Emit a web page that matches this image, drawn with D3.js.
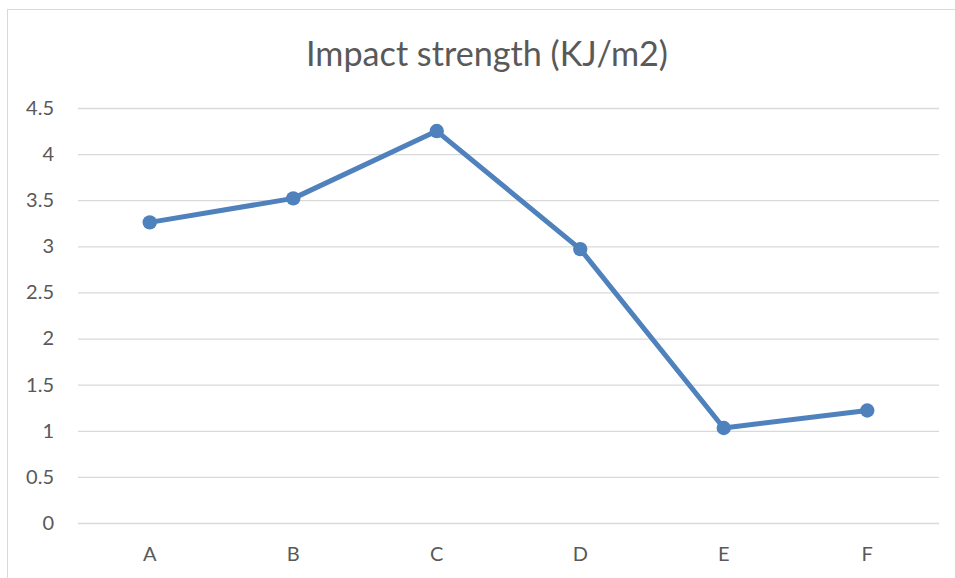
<!DOCTYPE html>
<html>
<head>
<meta charset="utf-8">
<script src="https://cdn.jsdelivr.net/npm/d3@7"></script>
<style>
  body { margin: 0; background: #fff; }
  svg text { font-family: Lato, "Open Sans", "Liberation Sans", sans-serif; fill: #595959; }
</style>
</head>
<body>
<div id="chart"></div>
<script>
// data
var categories = ['A', 'B', 'C', 'D', 'E', 'F'];
var strength = [3.26, 3.52, 4.25, 2.97, 1.03, 1.22];
var yTicks = [0, 0.5, 1, 1.5, 2, 2.5, 3, 3.5, 4, 4.5];
var title = 'Impact strength (KJ/m2)';

var width = 955, height = 578;
var plot = { left: 78, right: 939, top: 108, bottom: 523 };

var svg = d3.select('#chart').append('svg')
    .attr('width', width)
    .attr('height', height);

// chart frame
svg.append('rect')
    .attr('x', 7.5).attr('y', 9.5)
    .attr('width', 960).attr('height', 600)
    .attr('fill', '#fff')
    .attr('stroke', '#d9d9d9');

var x = d3.scaleBand().domain(categories).range([plot.left, plot.right]);
var y = d3.scaleLinear().domain([0, 4.5]).range([plot.bottom, plot.top]);

// gridlines + y labels
var yAxis = svg.append('g')
    .attr('transform', 'translate(' + plot.left + ',0)')
    .call(d3.axisLeft(y).tickValues(yTicks).tickSize(-(plot.right - plot.left)).tickPadding(24).tickFormat(d3.format('')));
yAxis.select('.domain').remove();
yAxis.selectAll('line').attr('stroke', '#d9d9d9').attr('stroke-width', 1.3);
yAxis.selectAll('text').style('font-size', '20px').attr('fill', '#595959');

// x labels
var xAxis = svg.append('g')
    .attr('transform', 'translate(0,' + plot.bottom + ')')
    .call(d3.axisBottom(x).tickSize(0).tickPadding(24));
xAxis.select('.domain').remove();
xAxis.selectAll('text').style('font-size', '20px').attr('fill', '#595959');

// line
var line = d3.line()
    .x(function(d, i) { return x(categories[i]) + x.bandwidth() / 2; })
    .y(function(d) { return y(d); });

svg.append('path')
    .datum(strength)
    .attr('d', line)
    .attr('fill', 'none')
    .attr('stroke', '#4f81bd')
    .attr('stroke-width', 5)
    .attr('stroke-linejoin', 'round');

svg.selectAll('circle.pt')
    .data(strength)
    .enter()
    .append('circle')
    .attr('class', 'pt')
    .attr('cx', function(d, i) { return x(categories[i]) + x.bandwidth() / 2; })
    .attr('cy', function(d) { return y(d); })
    .attr('r', 7.2)
    .attr('fill', '#4f81bd');

// title
var t = svg.append('text')
    .attr('x', 487)
    .attr('y', 66)
    .attr('text-anchor', 'middle')
    .style('font-size', '28px')
    .attr('fill', '#595959')
    .text(title);
// fit to width in the reference
var w = t.node().getComputedTextLength();
t.style('font-size', (28 * 362 / w) + 'px');
</script>
</body>
</html>
